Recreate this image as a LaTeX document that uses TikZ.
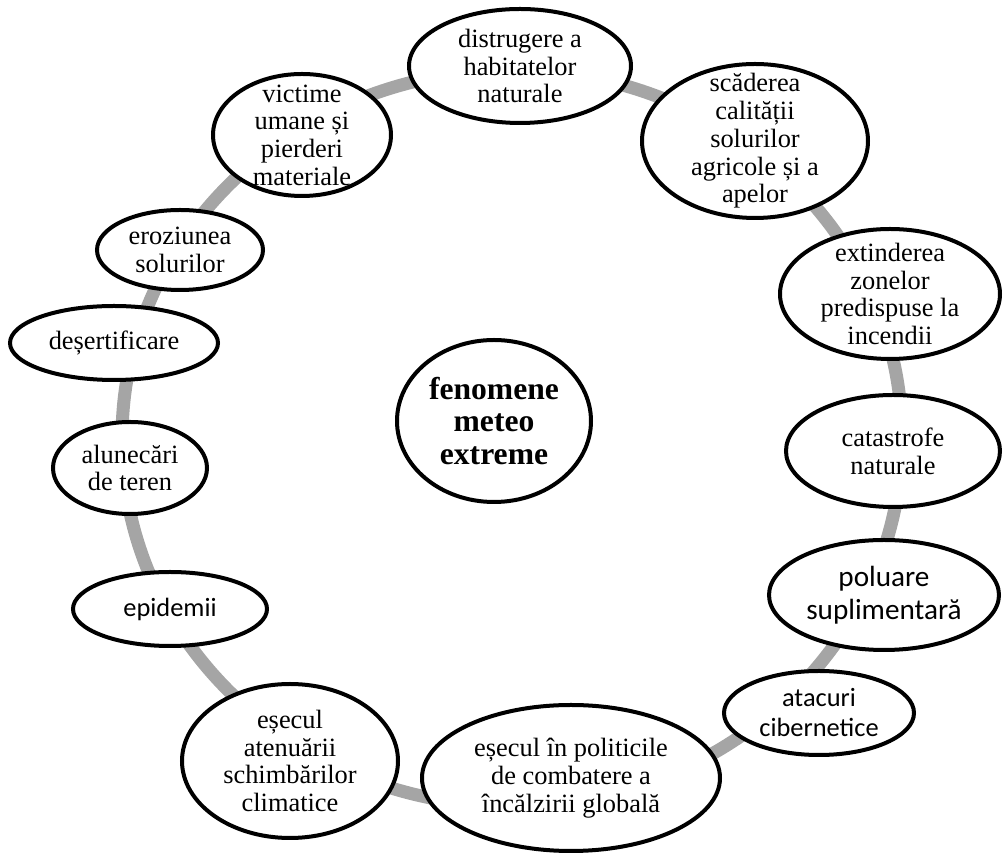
\documentclass[tikz,border=0pt]{standalone}
\usepackage{fontspec}
\setmainfont{Liberation Serif}
\newfontfamily\calibrifont{Carlito}
\usepackage{tikz}
\usetikzlibrary{shapes.geometric, backgrounds}
\definecolor{ringgray}{RGB}{165,165,165}

\begin{document}
\begin{tikzpicture}[x=0.5pt, y=-0.5pt,
	bubble/.style={ellipse, draw, line width=2pt, fill=white, inner sep=-40pt, align=center,
		font=\fontsize{13.2}{13.85}\selectfont},
	sansbubble/.style={bubble, font=\calibrifont\fontsize{13.2}{15}\selectfont},
	ring/.style={draw=ringgray, line width=6.5pt}]
	\useasboundingbox (0,0) rectangle (1003,854);
	% centre
	\node[bubble, minimum width=97pt, minimum height=81pt, font=\bfseries\fontsize{15.8}{16.3}\selectfont] (hub) at (494,421) {fenomene\\meteo\\extreme};
	% outer bubbles, clockwise from the top
	\node[bubble, minimum width=111pt, minimum height=57pt] (habitat) at (520,66) {distrugere a\\habitatelor\\naturale};
	\node[bubble, minimum width=113pt, minimum height=77pt] (soil) at (755,141) {scăderea\\calității\\solurilor\\agricole și a\\apelor};
	\node[bubble, minimum width=110pt, minimum height=65pt] (fire) at (890,294) {extinderea\\zonelor\\predispuse la\\incendii};
	\node[bubble, minimum width=107pt, minimum height=56pt] (disaster) at (893,451) {catastrofe\\naturale};
	\node[sansbubble, minimum width=115pt, minimum height=55pt, font=\calibrifont\fontsize{14.6}{16.5}\selectfont] (pollution) at (884,595) {poluare\\suplimentară};
	\node[sansbubble, minimum width=95pt, minimum height=42pt] (cyber) at (819,713) {atacuri\\cibernetice};
	\node[bubble, minimum width=149pt, minimum height=73pt] (policy) at (571,778) {eșecul în politicile\\de combatere a\\încălzirii globală};
	\node[bubble, minimum width=108pt, minimum height=77pt] (mitig) at (290,761) {eșecul\\atenuării\\schimbărilor\\climatice};
	\node[sansbubble, minimum width=97pt, minimum height=37pt] (epid) at (170,609) {epidemii};
	\node[bubble, minimum width=77pt, minimum height=46pt] (slide) at (130,468) {alunecări\\de teren};
	\node[bubble, minimum width=104pt, minimum height=37pt] (desert) at (114,343) {deșertificare};
	\node[bubble, minimum width=83pt, minimum height=40pt] (erosion) at (180,250) {eroziunea\\solurilor};
	\node[bubble, minimum width=89pt, minimum height=61pt] (victims) at (302,135) {victime\\umane și\\pierderi\\materiale};
	% grey ring behind the bubbles
	\begin{scope}[on background layer]
		\coordinate (ringc) at (512,438);
		\draw[ring] (ringc) ellipse[x radius=390, y radius=368];
	\end{scope}
\end{tikzpicture}
\end{document}
